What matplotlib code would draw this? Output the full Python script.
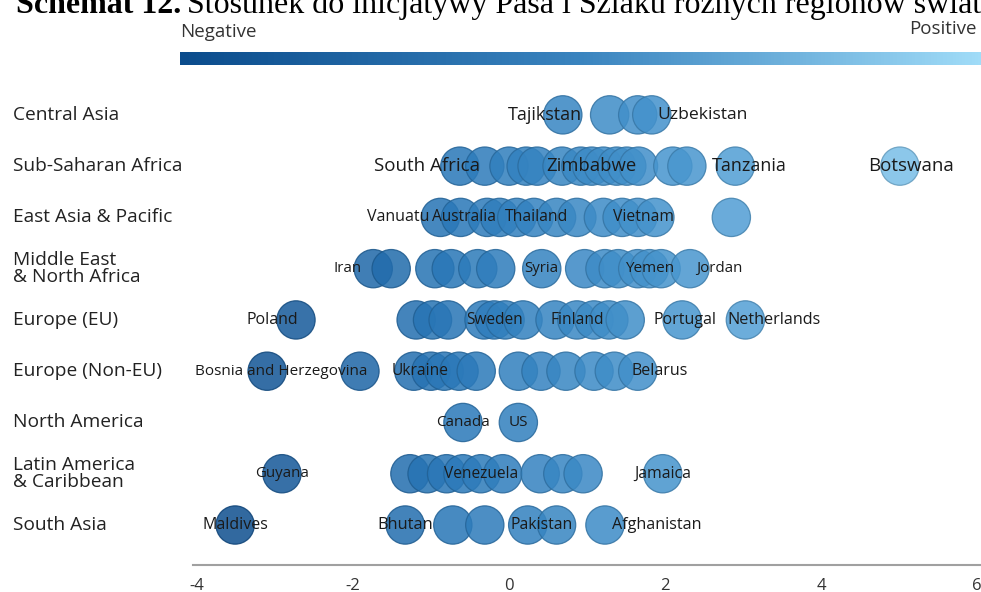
"""Belt and Road sentiment by region: beeswarm-style bubble rows."""

import matplotlib

matplotlib.use("Agg")
import matplotlib.pyplot as plt
import numpy as np
from matplotlib.colors import LinearSegmentedColormap, Normalize, to_rgb
from matplotlib.transforms import blended_transform_factory, offset_copy

plt.rcParams["font.family"] = ["Open Sans", "DejaVu Sans"]
plt.rcParams["axes.unicode_minus"] = False

TITLE_BOLD = "Schemat 12."
TITLE_REST = "Stosunek do inicjatywy Pasa i Szlaku różnych regionów świata"

REGIONS = [
    "Central Asia",
    "Sub-Saharan Africa",
    "East Asia & Pacific",
    "Middle East\n& North Africa",
    "Europe (EU)",
    "Europe (Non-EU)",
    "North America",
    "Latin America\n& Caribbean",
    "South Asia",
]

# sentiment score of each country, one list per region
central_asia = [0.69, 1.29, 1.65, 1.83]
sub_saharan_africa = [-0.63, -0.31, 0.00, 0.22, 0.36, 0.68, 0.92, 1.06, 1.21,
                      1.38, 1.51, 1.66, 2.10, 2.28, 2.90, 5.01]
east_asia_pacific = [-0.88, -0.62, -0.28, -0.12, 0.10, 0.32, 0.61, 0.87, 1.21,
                     1.45, 1.65, 1.87, 2.85]
middle_east = [-1.74, -1.51, -0.95, -0.74, -0.40, -0.17, 0.42, 0.97, 1.23,
               1.40, 1.65, 1.80, 1.95, 2.32]
europe_eu = [-2.73, -1.19, -0.98, -0.78, -0.32, -0.19, -0.05, 0.18, 0.59,
             0.87, 1.09, 1.28, 1.49, 2.22, 3.03]
europe_non_eu = [-3.10, -1.91, -1.22, -1.00, -0.83, -0.64, -0.42, 0.12, 0.41,
                 0.73, 1.09, 1.35, 1.65]
north_america = [-0.59, 0.12]
latin_america = [-2.91, -1.27, -1.05, -0.80, -0.59, -0.36, -0.08, 0.40, 0.69,
                 0.95, 1.97]
south_asia = [-3.51, -1.33, -0.72, -0.31, 0.24, 0.61, 1.23]

SCORES = [central_asia, sub_saharan_africa, east_asia_pacific, middle_east,
          europe_eu, europe_non_eu, north_america, latin_america, south_asia]

# named countries per region (score of the labelled bubble)
LABELS = [
    {"Tajikstan": 0.69, "Uzbekistan": 1.83},
    {"South Africa": -0.63, "Zimbabwe": 1.06, "Tanzania": 2.90, "Botswana": 5.01},
    {"Vanuatu": -0.88, "Australia": -0.62, "Thailand": 0.32, "Vietnam": 1.65},
    {"Iran": -1.74, "Syria": 0.42, "Yemen": 1.80, "Jordan": 2.32},
    {"Poland": -2.73, "Sweden": -0.19, "Finland": 0.87, "Portugal": 2.22,
     "Netherlands": 3.03},
    {"Bosnia and Herzegovina": -3.10, "Ukraine": -1.22, "Belarus": 1.65},
    {"Canada": -0.59, "US": 0.12},
    {"Guyana": -2.91, "Venezuela": -0.36, "Jamaica": 1.97},
    {"Maldives": -3.51, "Bhutan": -1.33, "Pakistan": 0.24, "Afghanistan": 1.23},
]

X_TICKS = [-4, -2, 0, 2, 4, 6]

# label placement: horizontal alignment, pixel shift, font size
LABEL_STYLE = {
    "Tajikstan": ("right", 19, 13), "Uzbekistan": ("left", 6, 12.6),
    "South Africa": ("right", 20, 13.5), "Zimbabwe": ("center", 0, 13.3),
    "Tanzania": ("center", 14, 13), "Botswana": ("center", 11, 13.5),
    "Vanuatu": ("right", -11, 11.5), "Australia": ("center", 3, 11.2),
    "Thailand": ("center", 3, 11.3), "Vietnam": ("center", 6, 11.3),
    "Iran": ("right", -12, 10.8), "Syria": ("center", 0, 10.8),
    "Yemen": ("center", 0, 11), "Jordan": ("left", 6, 10.8),
    "Poland": ("right", 2, 11.5), "Sweden": ("center", 0, 11.2),
    "Finland": ("center", 0, 11.2), "Portugal": ("center", 3, 11.5),
    "Netherlands": ("left", -18, 11.6),
    "Bosnia and Herzegovina": ("center", 14, 11), "Ukraine": ("left", -22, 11.2),
    "Belarus": ("left", -6, 11.5),
    "Canada": ("center", 0, 11), "US": ("center", 0, 11),
    "Guyana": ("center", 0, 10.8), "Venezuela": ("center", 0, 11.2),
    "Jamaica": ("center", 0, 11.4),
    "Maldives": ("center", 0, 11.5), "Bhutan": ("center", 0, 11.8),
    "Pakistan": ("center", 14, 11.3), "Afghanistan": ("left", 7, 11.6),
}

BUBBLE_CMAP = LinearSegmentedColormap.from_list(
    "bubbles", ["#0c4a8a", "#2a78b8", "#4d9bd2", "#8ccdf0"])
BAR_CMAP = LinearSegmentedColormap.from_list(
    "bar", ["#0b4c8c", "#3a84bf", "#a0dcf8"])


def main() -> int:
    width_px, height_px = 981, 592
    fig = plt.figure(figsize=(width_px / 100, height_px / 100), dpi=100)

    # main bubble axes
    left, right, top, bottom = 193, 981, 80, 565
    ax = fig.add_axes([left / width_px, 1 - bottom / height_px,
                       (right - left) / width_px, (bottom - top) / height_px])
    ax.set_xlim(-4.05, 6.05)
    ax.set_ylim(len(REGIONS) - 1 + 0.78, -0.68)

    norm = Normalize(vmin=-4, vmax=6)
    for row, values in enumerate(SCORES):
        vals = np.asarray(values, dtype=float)
        face = BUBBLE_CMAP(norm(vals))
        edge = [tuple(0.82 * c for c in to_rgb(f)) for f in face]
        ax.scatter(vals, np.full(vals.shape, row), s=760, c=face,
                   edgecolors=edge, linewidths=0.9, alpha=0.86, zorder=2)

    for row, labels in enumerate(LABELS):
        for name, score in labels.items():
            ha, dx, size = LABEL_STYLE[name]
            trans = offset_copy(ax.transData, fig=fig, x=dx * 0.72, y=0,
                                units="points")
            ax.text(score, row, name, transform=trans, ha=ha, va="center",
                    fontsize=size, color="#1a1a1a", zorder=3)

    for side in ("top", "left", "right"):
        ax.spines[side].set_visible(False)
    ax.spines["bottom"].set_color("#a0a0a0")
    ax.spines["bottom"].set_linewidth(1.5)
    ax.set_yticks([])
    ax.set_xticks(X_TICKS)
    ax.set_xticklabels([str(t) for t in X_TICKS])
    ax.tick_params(axis="x", length=0, pad=9, labelsize=12, labelcolor="#333333")

    # region names on the left
    row_trans = blended_transform_factory(fig.transFigure, ax.transData)
    for row, region in enumerate(REGIONS):
        ax.text(13 / width_px, row, region, transform=row_trans, ha="left",
                va="center", fontsize=13.8, color="#222222", linespacing=0.9,
                clip_on=False)

    # gradient legend bar
    bar = fig.add_axes([180 / width_px, 1 - 65 / height_px,
                        (981 - 180) / width_px, 13 / height_px])
    bar.imshow(np.linspace(0, 1, 256)[None, :], aspect="auto", cmap=BAR_CMAP)
    bar.set_axis_off()
    fig.text(180 / width_px, 1 - 32 / height_px, "Negative", ha="left",
             va="center", fontsize=13.5, color="#333333")
    fig.text(977 / width_px, 1 - 29 / height_px, "Positive", ha="right",
             va="center", fontsize=13.5, color="#333333")

    # title, clipped at the top edge as in the source
    renderer = fig.canvas.get_renderer()
    bold = fig.text(16 / width_px, 1 - 13 / height_px, TITLE_BOLD,
                    family="Liberation Serif", weight="bold", fontsize=23,
                    va="baseline", ha="left")
    bbox = bold.get_window_extent(renderer=renderer)
    fig.text((bbox.x1 + 6) / width_px, 1 - 13 / height_px, TITLE_REST,
             family="Liberation Serif", fontsize=23, va="baseline", ha="left")

    fig.savefig("out.png", dpi=100)
    plt.close(fig)
    return 0


if __name__ == "__main__":
    raise SystemExit(main())
